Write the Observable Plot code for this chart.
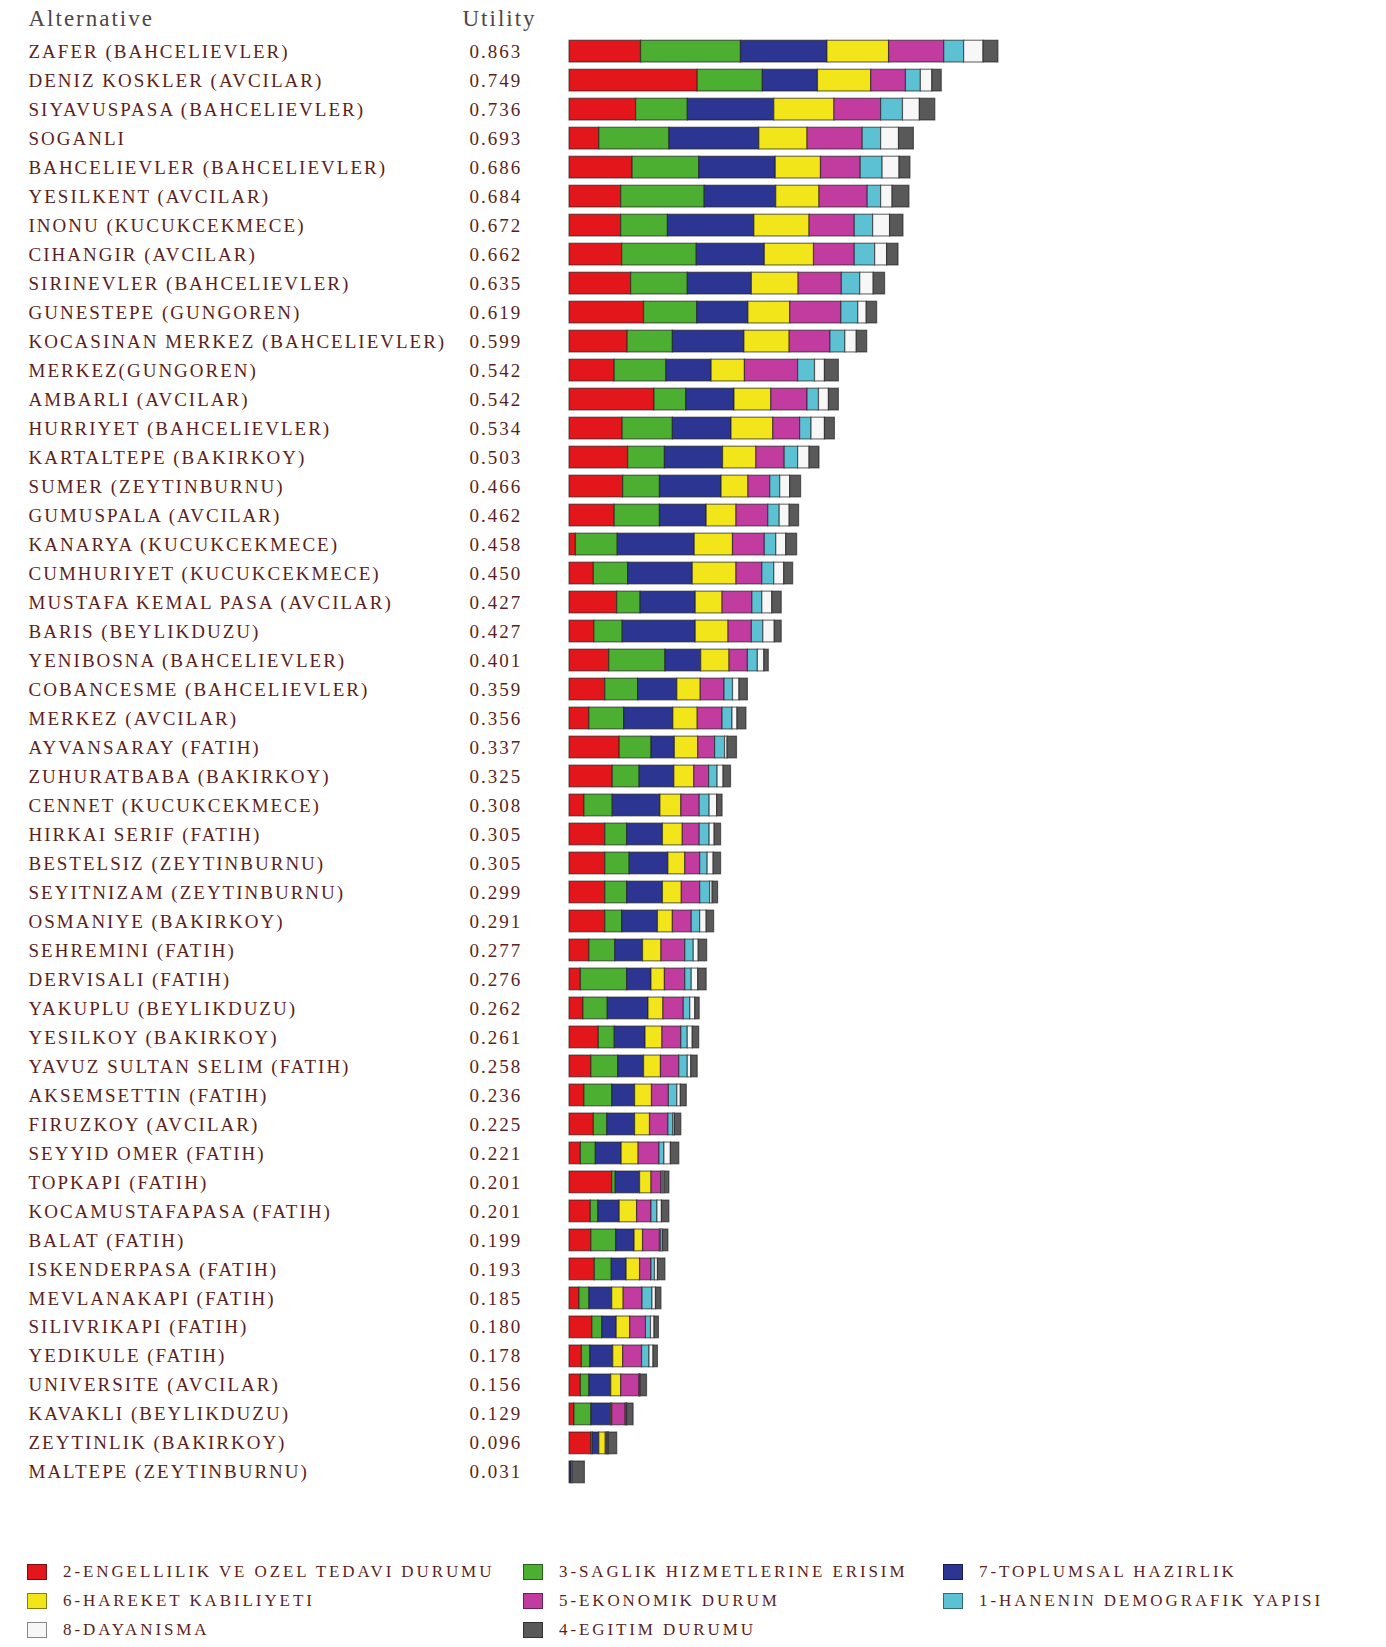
<!DOCTYPE html>
<html>
<head>
<meta charset="utf-8">
<script src="https://cdn.jsdelivr.net/npm/d3@7"></script>
<script src="https://cdn.jsdelivr.net/npm/@observablehq/plot@0.6"></script>
<style>
  body { margin: 0; background: #fff; }
  #chart svg text { letter-spacing: 2px; }
  #legend { position: relative; width: 1386px; height: 147px; font-family: "Liberation Serif", serif; font-size: 17px; color: #5b1f22; letter-spacing: 2.9px; }
  #legend .item { position: absolute; height: 20px; display: flex; align-items: center; white-space: nowrap; }
  #legend .sw { width: 20px; height: 16px; box-sizing: border-box; border: 1px solid rgba(0,0,0,0.45); margin-right: 16px; }
</style>
</head>
<body>
<div id="chart"></div>
<div id="legend"></div>
<script>
const names = [
  "ZAFER (BAHCELIEVLER)", "DENIZ KOSKLER (AVCILAR)", "SIYAVUSPASA (BAHCELIEVLER)", "SOGANLI",
  "BAHCELIEVLER (BAHCELIEVLER)", "YESILKENT (AVCILAR)", "INONU (KUCUKCEKMECE)", "CIHANGIR (AVCILAR)",
  "SIRINEVLER (BAHCELIEVLER)", "GUNESTEPE (GUNGOREN)", "KOCASINAN MERKEZ (BAHCELIEVLER)", "MERKEZ(GUNGOREN)",
  "AMBARLI (AVCILAR)", "HURRIYET (BAHCELIEVLER)", "KARTALTEPE (BAKIRKOY)", "SUMER (ZEYTINBURNU)",
  "GUMUSPALA (AVCILAR)", "KANARYA (KUCUKCEKMECE)", "CUMHURIYET (KUCUKCEKMECE)", "MUSTAFA KEMAL PASA (AVCILAR)",
  "BARIS (BEYLIKDUZU)", "YENIBOSNA (BAHCELIEVLER)", "COBANCESME (BAHCELIEVLER)", "MERKEZ (AVCILAR)",
  "AYVANSARAY (FATIH)", "ZUHURATBABA (BAKIRKOY)", "CENNET (KUCUKCEKMECE)", "HIRKAI SERIF (FATIH)",
  "BESTELSIZ (ZEYTINBURNU)", "SEYITNIZAM (ZEYTINBURNU)", "OSMANIYE (BAKIRKOY)", "SEHREMINI (FATIH)",
  "DERVISALI (FATIH)", "YAKUPLU (BEYLIKDUZU)", "YESILKOY (BAKIRKOY)", "YAVUZ SULTAN SELIM (FATIH)",
  "AKSEMSETTIN (FATIH)", "FIRUZKOY (AVCILAR)", "SEYYID OMER (FATIH)", "TOPKAPI (FATIH)",
  "KOCAMUSTAFAPASA (FATIH)", "BALAT (FATIH)", "ISKENDERPASA (FATIH)", "MEVLANAKAPI (FATIH)",
  "SILIVRIKAPI (FATIH)", "YEDIKULE (FATIH)", "UNIVERSITE (AVCILAR)", "KAVAKLI (BEYLIKDUZU)",
  "ZEYTINLIK (BAKIRKOY)", "MALTEPE (ZEYTINBURNU)"
];
const utility = [0.863,0.749,0.736,0.693,0.686,0.684,0.672,0.662,0.635,0.619,0.599,0.542,0.542,0.534,0.503,0.466,0.462,0.458,0.450,0.427,0.427,0.401,0.359,0.356,0.337,0.325,0.308,0.305,0.305,0.299,0.291,0.277,0.276,0.262,0.261,0.258,0.236,0.225,0.221,0.201,0.201,0.199,0.193,0.185,0.180,0.178,0.156,0.129,0.096,0.031];

const criteria = [
  "2-ENGELLILIK VE OZEL TEDAVI DURUMU", "3-SAGLIK HIZMETLERINE ERISIM", "7-TOPLUMSAL HAZIRLIK",
  "6-HAREKET KABILIYETI", "5-EKONOMIK DURUM", "1-HANENIN DEMOGRAFIK YAPISI", "8-DAYANISMA", "4-EGITIM DURUMU"
];
const colors = ["#e3161b", "#4caf31", "#2c3591", "#f2e51a", "#c23c9f", "#5cc2d3", "#f7f7f7", "#595959"];

// segment values per criterion (same order as names)
const c2 = [0.144,0.258,0.134,0.060,0.127,0.104,0.104,0.106,0.124,0.150,0.117,0.091,0.171,0.107,0.118,0.108,0.091,0.013,0.049,0.096,0.050,0.080,0.072,0.040,0.101,0.087,0.030,0.072,0.072,0.072,0.072,0.040,0.023,0.028,0.059,0.044,0.030,0.049,0.023,0.086,0.043,0.044,0.051,0.020,0.046,0.025,0.023,0.010,0.044,0];
const c3 = [0.201,0.131,0.104,0.141,0.134,0.168,0.094,0.150,0.114,0.107,0.091,0.104,0.064,0.101,0.074,0.074,0.091,0.084,0.069,0.047,0.057,0.113,0.066,0.070,0.064,0.054,0.057,0.044,0.049,0.044,0.034,0.052,0.093,0.049,0.032,0.054,0.056,0.027,0.030,0.007,0.015,0.050,0.034,0.020,0.020,0.017,0.017,0.034,0.003,0];
const c7 = [0.174,0.111,0.174,0.181,0.154,0.144,0.174,0.137,0.129,0.103,0.144,0.091,0.097,0.118,0.117,0.124,0.094,0.155,0.130,0.111,0.147,0.072,0.079,0.099,0.047,0.070,0.096,0.072,0.078,0.072,0.072,0.056,0.049,0.082,0.062,0.052,0.046,0.056,0.052,0.049,0.043,0.037,0.030,0.046,0.029,0.046,0.044,0.040,0.013,0.004];
const c6 = [0.124,0.107,0.121,0.097,0.091,0.087,0.111,0.099,0.094,0.084,0.091,0.067,0.074,0.084,0.067,0.054,0.060,0.077,0.088,0.054,0.066,0.057,0.047,0.049,0.047,0.040,0.042,0.040,0.034,0.038,0.030,0.037,0.027,0.030,0.034,0.034,0.034,0.030,0.034,0.023,0.035,0.017,0.027,0.023,0.027,0.020,0.020,0.002,0.013,0];
const c5 = [0.111,0.070,0.094,0.111,0.080,0.097,0.091,0.082,0.087,0.103,0.082,0.107,0.073,0.054,0.057,0.044,0.064,0.064,0.052,0.060,0.047,0.037,0.048,0.050,0.034,0.030,0.037,0.034,0.030,0.037,0.038,0.048,0.041,0.041,0.038,0.037,0.034,0.037,0.042,0.020,0.029,0.034,0.023,0.038,0.032,0.038,0.037,0.027,0.003,0];
const c1 = [0.040,0.030,0.044,0.037,0.044,0.027,0.037,0.041,0.037,0.034,0.030,0.034,0.023,0.023,0.027,0.020,0.023,0.023,0.024,0.020,0.023,0.020,0.017,0.020,0.020,0.017,0.020,0.020,0.015,0.020,0.017,0.017,0.013,0.013,0.013,0.017,0.017,0.010,0.010,0.003,0.012,0.003,0.007,0.020,0.010,0.015,0.001,0.002,0.002,0];
const c8 = [0.039,0.023,0.034,0.036,0.034,0.023,0.034,0.024,0.027,0.017,0.023,0.020,0.020,0.027,0.023,0.020,0.020,0.020,0.020,0.020,0.023,0.013,0.013,0.010,0.005,0.012,0.015,0.010,0.012,0.005,0.013,0.010,0.013,0.010,0.010,0.007,0.007,0.003,0.013,0.003,0.009,0.003,0.006,0.007,0.007,0.008,0.001,0.001,0.001,0.002];
const c4 = [0.030,0.019,0.031,0.030,0.022,0.034,0.027,0.023,0.023,0.021,0.021,0.028,0.020,0.020,0.020,0.022,0.019,0.022,0.018,0.019,0.014,0.009,0.017,0.018,0.019,0.015,0.011,0.013,0.015,0.011,0.015,0.017,0.017,0.009,0.013,0.013,0.012,0.013,0.017,0.010,0.015,0.011,0.015,0.011,0.009,0.009,0.013,0.013,0.017,0.025];

const series = [c2, c3, c7, c6, c5, c1, c8, c4];
const data = [];
names.forEach((name, i) => {
  series.forEach((arr, k) => {
    if (arr[i] > 0) data.push({name, crit: criteria[k], value: arr[i]});
  });
});

const plot = Plot.plot({
  width: 1386,
  height: 1500,
  marginLeft: 569,
  marginRight: 320,
  marginTop: 33,
  marginBottom: 10,
  x: {domain: [0, 1], axis: null},
  y: {domain: names, padding: 0.25, axis: null},
  color: {domain: criteria, range: colors},
  style: {fontFamily: "Liberation Serif, serif", background: "white", overflow: "visible"},
  marks: [
    Plot.barX(data, Plot.stackX({x: "value", y: "name", fill: "crit", order: criteria,
      stroke: "#1a1a1a", strokeOpacity: 0.6, strokeWidth: 1.2})),
    Plot.text(names, {y: d => d, text: d => d, frameAnchor: "left", textAnchor: "start",
      dx: -541, fontSize: 19, fill: "#5b1f22"}),
    Plot.text(names, {y: d => d, text: (d, i) => utility[i].toFixed(3), frameAnchor: "left", textAnchor: "start",
      dx: -100, fontSize: 19, fill: "#5b1f22"}),
    Plot.text(["Alternative"], {frameAnchor: "top-left", lineAnchor: "middle", textAnchor: "start",
      dx: -541, dy: -15, fontSize: 23, fill: "#4d4545"}),
    Plot.text(["Utility"], {frameAnchor: "top-left", lineAnchor: "middle", textAnchor: "start",
      dx: -107, dy: -15, fontSize: 23, fill: "#4d4545"})
  ]
});
document.getElementById("chart").appendChild(plot);

// legend, row-major in three columns
const legend = document.getElementById("legend");
const colX = [27, 523, 943];
const rowY = [62, 91, 120];
criteria.forEach((c, k) => {
  const item = document.createElement("div");
  item.className = "item";
  item.style.left = colX[k % 3] + "px";
  item.style.top = rowY[Math.floor(k / 3)] + "px";
  const sw = document.createElement("span");
  sw.className = "sw";
  sw.style.background = colors[k];
  const tx = document.createElement("span");
  tx.textContent = c;
  item.appendChild(sw);
  item.appendChild(tx);
  legend.appendChild(item);
});
</script>
</body>
</html>
